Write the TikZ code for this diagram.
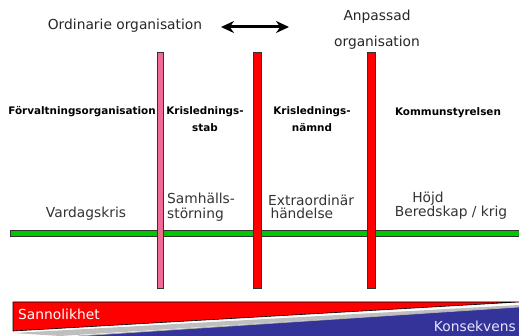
\documentclass[tikz,border=0pt]{standalone}
\usepackage{fontspec}
\setmainfont{DejaVu Sans}
\usetikzlibrary{arrows.meta}
\definecolor{stabpink}{HTML}{F06A96}
\definecolor{krisred}{HTML}{FF0000}
\definecolor{linegreen}{HTML}{00C800}
\definecolor{konsblue}{HTML}{333399}
\definecolor{textgray}{HTML}{333333}
\tikzset{
  bar/.style={draw=black!80,line width=0.8pt,minimum height=236pt,inner sep=0pt},
  level/.style={font=\fontsize{10.4}{17}\selectfont\bfseries,align=center,inner sep=0pt},
  phase/.style={font=\fontsize{13.8}{15}\selectfont,text=textgray,align=left,inner sep=0pt},
  head/.style={font=\fontsize{13.8}{26}\selectfont,text=black!85,align=center,inner sep=0pt}
}
\begin{document}
\begin{tikzpicture}[x=1pt,y=-1pt]
\useasboundingbox (0,0) rectangle (519,336);
% tidslinje
\path (267,233) node (timeline) [draw=black!80,fill=linegreen,line width=0.8pt,minimum width=514pt,minimum height=6pt,inner sep=0pt] {};
% nivaer
\path (160,170) node (stab) [bar,fill=stabpink,minimum width=6pt] {};
\path (257,170) node (namnd) [bar,fill=krisred,minimum width=8pt] {};
\path (371,170) node (styr) [bar,fill=krisred,minimum width=8pt] {};

\path (125,26) node (ordinarie) [head] {Ordinarie organisation};
\path (377,30) node (anpassad) [head] {Anpassad\\organisation};
\coordinate (arrowl) at (221,27);
\coordinate (arrowr) at (289,27);
\draw [{Stealth[length=13pt,width=12pt]}-{Stealth[length=13pt,width=12pt]},line width=3pt] (arrowl) to (arrowr);

\path (82,112) node (forvaltning) [level] {Förvaltningsorganisation};
\path (205,119) node (krisstab) [level] {Krislednings-\\stab};
\path (312,119) node (krisnamnd) [level] {Krislednings-\\nämnd};
\path (448,113) node (kommun) [level] {Kommunstyrelsen};

\path (86,214) node (vardag) [phase] {Vardagskris};
\path (167,207) node (samhall) [phase,anchor=west] {Samhälls-\\störning};
\path (268,207) node (extra) [phase,anchor=west,font=\fontsize{13.8}{12.5}\selectfont] {Extraordinär\\\,händelse};
\path (451,206) node (hojd) [phase,align=center,font=\fontsize{13.8}{12.5}\selectfont] {\hspace*{-46pt}Höjd\\Beredskap / krig};

% sannolikhet och konsekvens
\fill [gray!50] (13,333) -- (519,305) -- (519,307) -- (60,336) -- cycle;
\filldraw [fill=krisred,draw=black,line width=0.6pt] (13,302) -- (519,302) -- (13,331) -- cycle;
\fill [konsblue] (78,336) -- (519,307) -- (519,336) -- cycle;
\draw [gray!60,line width=0.8pt] (78,336) -- (519,307);
\path (18,314) node (sannolikhet) [anchor=west,inner sep=0pt,text=white,font=\fontsize{13.8}{14}\selectfont] {Sannolikhet};
\path (516,326) node (konsekvens) [anchor=east,inner sep=0pt,text=white!90!blue,font=\fontsize{13.8}{14}\selectfont] {Konsekvens};
\end{tikzpicture}
\end{document}
